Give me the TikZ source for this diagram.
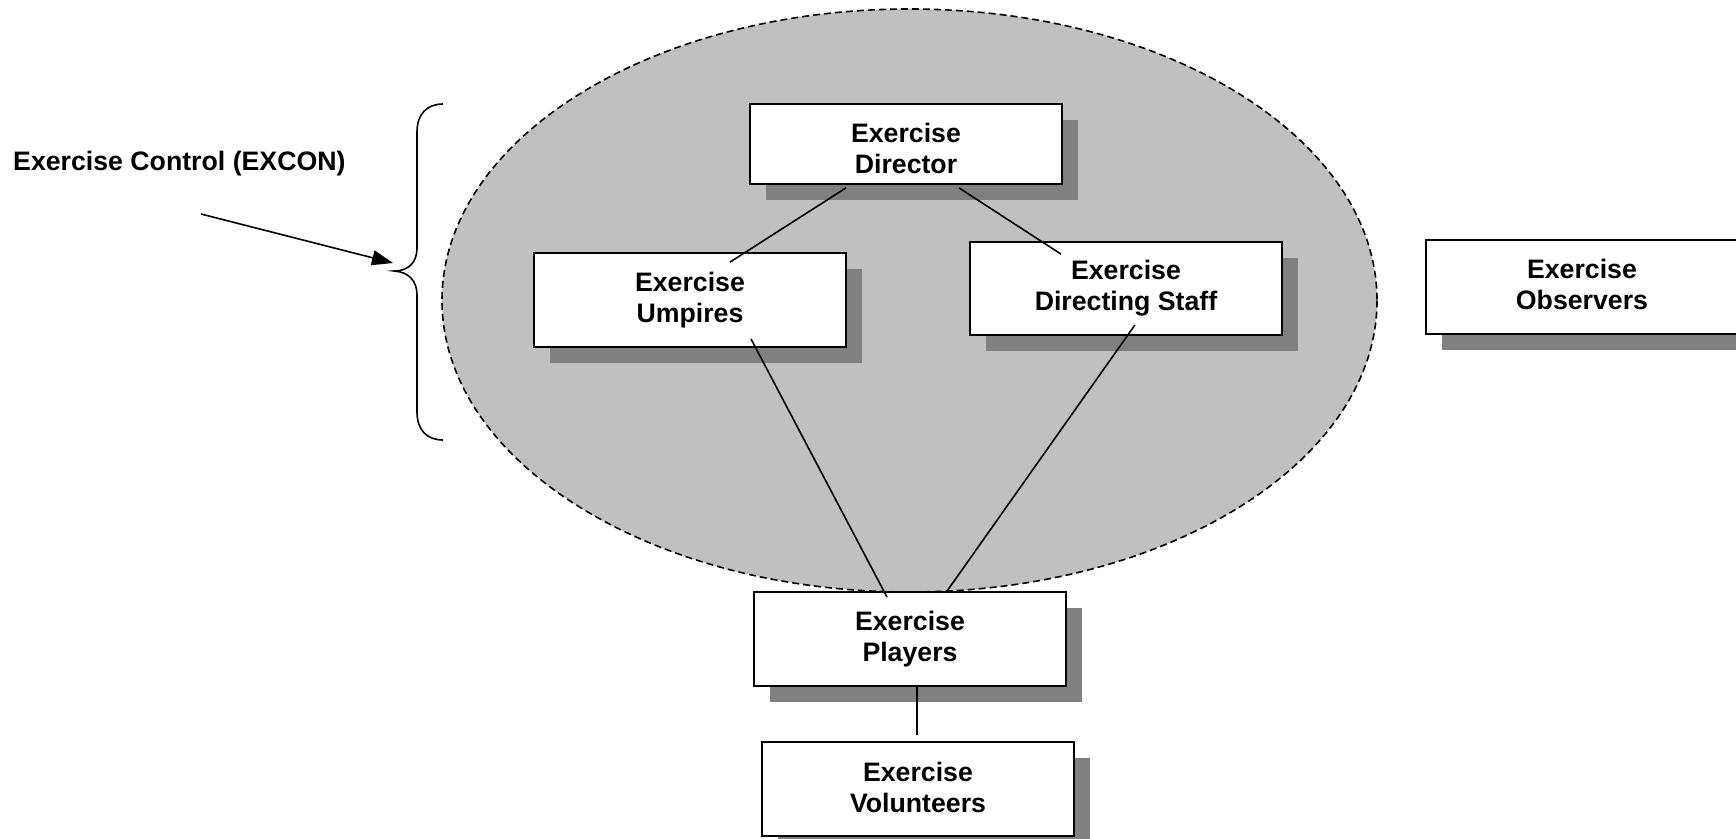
\documentclass[tikz,border=0pt]{standalone}
\usepackage{fontspec}
\setmainfont{Liberation Sans}
\usetikzlibrary{shadows,arrows.meta}
\definecolor{ellgray}{HTML}{C0C0C0}
\definecolor{shadowgray}{HTML}{808080}

\begin{document}
\begin{tikzpicture}[x=1pt,y=-1pt,
  box/.style={draw=black, line width=1.8pt, fill=white,
    minimum width=312pt, minimum height=94pt, inner sep=0pt,
    align=center, font=\fontsize{26.7}{31}\selectfont\bfseries,
    drop shadow={shadow xshift=16pt, shadow yshift=-16pt,
      fill=shadowgray, opacity=1}},
  link/.style={line width=1.6pt},
  lbl/.style={font=\fontsize{26.7}{31}\selectfont\bfseries, inner sep=0pt}]

\clip (0,0) rectangle (1736,838);

% EXCON region
\draw[fill=ellgray, line width=1.6pt, dash pattern=on 7pt off 4pt]
  (909.5,300.5) ellipse [x radius=467.5, y radius=291.5];

% brace grouping the control staff
\coordinate (bracetip) at (394,271);
\draw[line width=1.6pt]
  (443,104) .. controls (427,104) and (417,114) .. (417,132)
  -- (417,248) .. controls (417,262) and (409,271) .. (bracetip)
  .. controls (409,272) and (417,281) .. (417,295)
  -- (417,412) .. controls (417,430) and (427,440) .. (443,440);

% label and pointer
\node[lbl, anchor=west] (excon) at (13,164) {Exercise Control (EXCON)};
\coordinate (arrowstart) at (201,214);
\coordinate (arrowend) at (393,263);
\draw[link, -{Triangle[length=21pt,width=15pt]}] (arrowstart) -- (arrowend);

% organisation boxes
\node[box, minimum height=80pt, text height=60pt] (director) at (906,144) {Exercise\\Director};
\node[box] (umpires) at (690,300) {Exercise\\Umpires};
\node[box, minimum height=93pt] (staff) at (1126,288.5) {Exercise\\Directing Staff};
\node[box, text height=45.5pt] (observers) at (1582,287) {Exercise\\Observers};
\node[box] (players) at (910,639) {Exercise\\Players};
\node[box, text height=46.5pt] (volunteers) at (918,789) {Exercise\\Volunteers};

% reporting lines
\draw[link] ([shift={(-60,3)}]director.south) -- ([shift={(40,10)}]umpires.north);
\draw[link] ([shift={(53,3)}]director.south) -- ([shift={(-65,13)}]staff.north);
\draw[link] ([shift={(61,-9)}]umpires.south) -- ([shift={(-23,6)}]players.north);
\draw[link] ([shift={(9,-11)}]staff.south) -- ([shift={(37,0)}]players.north);
\draw[link] ([shift={(7,0)}]players.south) -- ([shift={(-1,-6)}]volunteers.north);
\end{tikzpicture}
\end{document}
